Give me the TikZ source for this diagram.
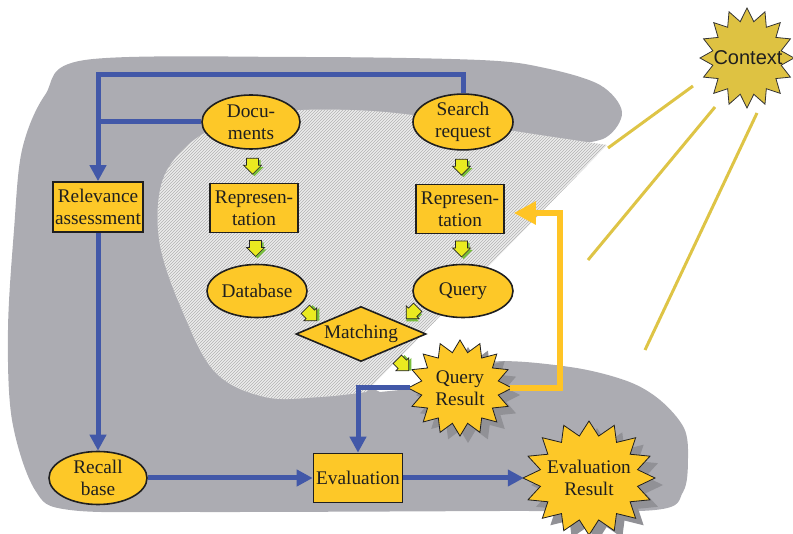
\documentclass[tikz,border=0pt]{standalone}
\usepackage{fontspec}
\setmainfont{Liberation Serif}
\newfontfamily\ctxfont{Liberation Sans}
\usetikzlibrary{shapes.geometric,arrows.meta,patterns,calc}
\definecolor{nodefill}{RGB}{253,200,40}
\definecolor{outergray}{RGB}{172,172,178}
\definecolor{hatchbg}{RGB}{236,236,236}
\definecolor{hatchline}{RGB}{178,178,178}
\definecolor{blueline}{RGB}{66,88,168}
\definecolor{orangeline}{RGB}{255,196,37}
\definecolor{ctxfill}{RGB}{222,194,66}
\definecolor{ctxline}{RGB}{222,196,70}
\definecolor{barfill}{RGB}{234,234,32}
\definecolor{barshadow}{RGB}{120,190,60}
\definecolor{starshadow}{RGB}{145,145,150}
\newcommand{\mystar}[6]{% style, cx, cy, rx, ry, depth
  \path[#1] plot[samples at={0,...,31}, variable=\t]
    ({#2+#4*(1-#6*mod(\t,2))*cos(90+\t*11.25)},{#3+#5*(1-#6*mod(\t,2))*sin(90+\t*11.25)}) -- cycle;}
\tikzset{
  barrow/.pic={
    \fill[barshadow] (-4,-6) -- (8,-6) -- (8,1) -- (11,1) -- (2,10) -- (-7,1) -- (-4,1) -- cycle;
    \filldraw[fill=barfill, draw=black!85, line width=0.7pt] (-6,-8) -- (6,-8) -- (6,-1) -- (9,-1) -- (0,8) -- (-9,-1) -- (-6,-1) -- cycle;
  }
}
\begin{document}
\begin{tikzpicture}[x=1pt,y=-1pt,
  every node/.style={font=\fontsize{19.3}{22}\selectfont, text=black!88},
  elli/.style={ellipse, draw=black!88, line width=1.6pt, fill=nodefill, inner sep=0pt, align=center},
  boxn/.style={rectangle, draw=black!88, line width=1.6pt, fill=nodefill, inner sep=0pt, align=center},
  lbl/.style={ellipse, inner sep=0pt, align=center},
  bluel/.style={draw=blueline, line width=5pt, line join=miter},
  bluea/.style={bluel, -{Triangle[length=16pt,width=16pt]}},
  orangea/.style={draw=orangeline, line width=6pt, line join=miter, -{Triangle[length=22pt,width=22pt]}},
  ctxl/.style={draw=ctxline, line width=3pt},
  starsh/.style={fill=starshadow},
  starf/.style={fill=nodefill, draw=black!88, line width=0.8pt}
]
\useasboundingbox (0,0) rectangle (793,534);
% outer gray region
\fill[outergray] (560,146) -- (420,300) -- (355,380) -- (380,392) -- (410,389) -- (440,386)
  -- plot[smooth, tension=0.55] coordinates {(440,386) (490,362) (570,367) (627,381) (660,400) (684,428) (688,458) (683,492) (655,510) (500,511) (200,512) (70,510) (35,490) (12,420) (8,330) (14,230) (22,150) (45,95) (85,60) (300,57) (480,60) (545,68) (600,85) (622,112) (605,138) (560,146)} -- cycle;
% hatched inner region
\path[preaction={fill=hatchbg}, pattern=north east lines, pattern color=hatchline]
  (607,145) -- (366,392) -- plot[smooth, tension=0.6] coordinates {(366,392) (320,397) (265,397) (215,372) (182,310) (160,245) (160,190) (178,155) (215,128) (280,112) (350,110) (420,116) (520,132) (607,145)} -- cycle;
% context
\coordinate (c1a) at (693,86);  \coordinate (c1b) at (608,148);
\coordinate (c2a) at (715,107); \coordinate (c2b) at (588,260);
\coordinate (c3a) at (757,113); \coordinate (c3b) at (645,350);
\draw[ctxl] (c1a) -- (c1b);
\draw[ctxl] (c2a) -- (c2b);
\draw[ctxl] (c3a) -- (c3b);
\mystar{fill=ctxfill, draw=black!80, line width=0.8pt}{747}{58}{47}{50}{0.26}
\node[lbl, font=\ctxfont\fontsize{20}{24}\selectfont] (ctx) at (748,58) {Context};
% stars
\mystar{starsh}{468}{395}{52}{48}{0.25}
\mystar{starf}{460}{388}{52}{48}{0.25}
\node[lbl, minimum width=100pt, minimum height=92pt] (qr) at (460,388) {Query\\Result};
\mystar{starsh}{597}{485}{66}{57}{0.25}
\mystar{starf}{589}{478}{66}{57}{0.25}
\node[lbl, minimum width=130pt, minimum height=110pt] (er) at (589,478) {Evaluation\\Result};
% nodes
\node[elli, minimum width=98pt, minimum height=54pt] (doc) at (251,122) {Docu-\\ments};
\node[elli, minimum width=100pt, minimum height=54pt] (sr) at (463,122) {Search\\request};
\node[boxn, minimum width=88pt, minimum height=49pt] (rep1) at (254,208) {Represen-\\tation};
\node[boxn, minimum width=88pt, minimum height=49pt] (rep2) at (460,209) {Represen-\\tation};
\node[boxn, minimum width=90pt, minimum height=50pt] (rel) at (98,207) {Relevance\\assessment};
\node[elli, minimum width=98pt, minimum height=53pt] (db) at (257,291) {Database};
\node[elli, minimum width=100pt, minimum height=53pt] (qu) at (463,291) {Query};
\node[diamond, draw=black!88, line width=1.6pt, fill=nodefill, inner sep=0pt, shape aspect=2.36, minimum width=130pt, minimum height=55pt] (mat) at (361,334) {Matching};
\node[elli, minimum width=98pt, minimum height=53pt] (rb) at (98,478) {Recall\\base};
\node[boxn, minimum width=89pt, minimum height=49pt] (ev) at (358,478) {Evaluation};
% block arrows
\pic at ($(doc.south)!0.5!(rep1.north)$) {barrow};
\pic at ($(rep1.south)!0.5!(db.north)$) {barrow};
\pic at ($(sr.south)!0.5!(rep2.north)$) {barrow};
\pic at ($(rep2.south)!0.5!(qu.north)$) {barrow};
\pic[rotate=45] at (311,315) {barrow};
\pic[rotate=-45] at (412,313) {barrow};
\pic[rotate=45] at (403,365) {barrow};
% blue connectors
\coordinate (topy) at (0,75);
\draw[bluea] (sr.north) -- (sr.north |- topy) -| (rel.north);
\draw[bluel] (doc.west) -- (doc.west -| rel.north);
\draw[bluea] (rel.south) -- (rb.north);
\draw[bluea] (rb.east) -- (ev.west);
\draw[bluea] (qr.west) -| (ev.north);
\draw[bluea] (ev.east) -- (er.west);
% orange feedback
\coordinate (ox) at (560,0);
\draw[orangea] (qr.east) -- (qr.east -| ox) |- ([xshift=9pt,yshift=-4pt]rep2.east);
\end{tikzpicture}
\end{document}
